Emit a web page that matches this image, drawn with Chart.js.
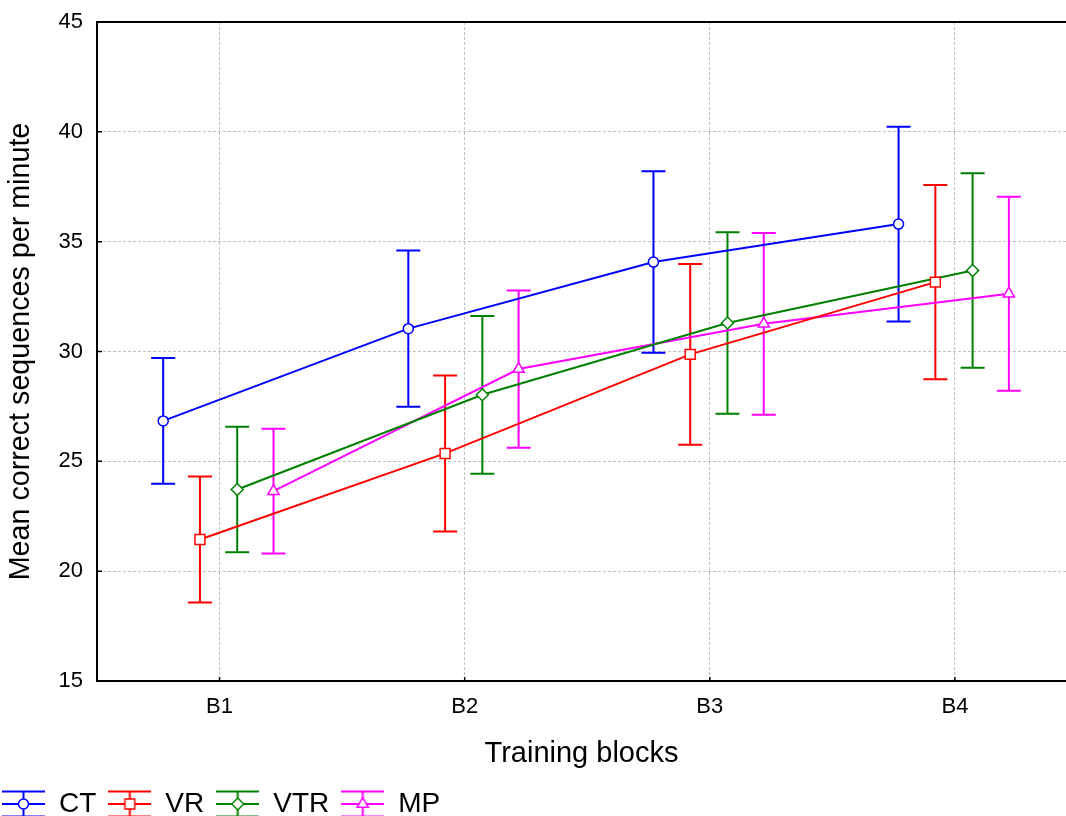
<!DOCTYPE html>
<html>
<head>
<meta charset="utf-8">
<script src="https://cdn.jsdelivr.net/npm/chart.js@4/dist/chart.umd.min.js"></script>
<style>
html,body{margin:0;padding:0;background:#fff;overflow:hidden}
#wrap{width:1066px;height:816px;position:relative}
canvas{display:block}
</style>
</head>
<body>
<div id="wrap"><canvas id="c" width="1066" height="816"></canvas></div>
<script>
// ---------- data ----------
const categories = ['B1', 'B2', 'B3', 'B4'];
const seriesNames = ['CT', 'VR', 'VTR', 'MP'];
const ctMean  = [26.84, 31.04, 34.07, 35.80];
const ctErr   = [2.86, 3.56, 4.13, 4.43];
const vrMean  = [21.44, 25.36, 29.87, 33.16];
const vrErr   = [2.87, 3.55, 4.11, 4.42];
const vtrMean = [23.72, 28.03, 31.30, 33.69];
const vtrErr  = [2.86, 3.59, 4.13, 4.43];
const mpMean  = [23.64, 29.20, 31.26, 32.63];
const mpErr   = [2.84, 3.58, 4.14, 4.42];
const yTickValues = [15, 20, 25, 30, 35, 40, 45];
const xTitle = 'Training blocks';
const yTitle = 'Mean correct sequences per minute';

// ---------- styles / layout ----------
const means = [ctMean, vrMean, vtrMean, mpMean];
const errs = [ctErr, vrErr, vtrErr, mpErr];
const colors = ['#0000ff', '#ff0000', '#008000', '#ff00ff'];
const markers = [
  {style: 'circle', r: 5},
  {style: 'rect', r: 7},
  {style: 'rectRot', r: 6},
  {style: 'triangle', r: 6.5}
];
const offsets = [-0.23, -0.08, 0.072, 0.22];
const FONT = "'Liberation Sans', Arial, Helvetica, sans-serif";
const GRID = '#c0c0c0';
const CAP = 12;

function drawMarker(ctx, style, r, x, y) {
  ctx.beginPath();
  if (style === 'circle') {
    ctx.arc(x, y, r, 0, Math.PI * 2);
  } else if (style === 'rect') {
    const s = Math.SQRT1_2 * r;
    ctx.rect(x - s, y - s, 2 * s, 2 * s);
  } else if (style === 'rectRot') {
    ctx.moveTo(x - r, y); ctx.lineTo(x, y - r); ctx.lineTo(x + r, y); ctx.lineTo(x, y + r);
  } else if (style === 'triangle') {
    let a = 0;
    ctx.moveTo(x + Math.sin(a) * r, y - Math.cos(a) * r);
    a += 2 * Math.PI / 3;
    ctx.lineTo(x + Math.sin(a) * r, y - Math.cos(a) * r);
    a += 2 * Math.PI / 3;
    ctx.lineTo(x + Math.sin(a) * r, y - Math.cos(a) * r);
  }
  ctx.closePath();
  ctx.fill();
  ctx.stroke();
}

const legendIcons = seriesNames.map((n, s) => {
  const cv = document.createElement('canvas');
  cv.width = 43; cv.height = 28;
  const c = cv.getContext('2d');
  c.strokeStyle = colors[s];
  c.lineWidth = 2;
  c.beginPath();
  c.moveTo(0, 1.4); c.lineTo(43, 1.4);
  c.moveTo(0, 14); c.lineTo(43, 14);
  c.moveTo(0, 26.6); c.lineTo(43, 26.6);
  c.moveTo(21.5, 1.4); c.lineTo(21.5, 26.6);
  c.stroke();
  c.fillStyle = '#fff';
  c.lineWidth = 1.5;
  drawMarker(c, markers[s].style, markers[s].r, 21.5, 14);
  return cv;
});

const errorBars = {
  id: 'errorBars',
  beforeDatasetsDraw(chart) {
    const {ctx, scales: {x, y}} = chart;
    ctx.save();
    ctx.lineWidth = 2;
    chart.data.datasets.forEach((ds) => {
      ctx.strokeStyle = ds.borderColor;
      ds.data.forEach((p, i) => {
        const px = x.getPixelForValue(p.x);
        const yt = y.getPixelForValue(p.y + ds.errors[i]);
        const yb = y.getPixelForValue(p.y - ds.errors[i]);
        ctx.beginPath();
        ctx.moveTo(px, yt); ctx.lineTo(px, yb);
        ctx.moveTo(px - CAP, yt); ctx.lineTo(px + CAP, yt);
        ctx.moveTo(px - CAP, yb); ctx.lineTo(px + CAP, yb);
        ctx.stroke();
      });
    });
    ctx.restore();
  }
};

const frame = {
  id: 'frame',
  afterDraw(chart) {
    const {ctx, chartArea: a, scales: {x, y}} = chart;
    ctx.save();
    ctx.strokeStyle = '#000';
    ctx.lineWidth = 1.5;
    ctx.beginPath();
    y.ticks.forEach(t => {
      const py = y.getPixelForValue(t.value);
      ctx.moveTo(a.left, py); ctx.lineTo(a.left + 5, py);
    });
    x.ticks.forEach(t => {
      const px = x.getPixelForValue(t.value);
      ctx.moveTo(px, a.bottom); ctx.lineTo(px, a.bottom - 4);
    });
    ctx.stroke();
    ctx.lineWidth = 2;
    ctx.beginPath();
    ctx.moveTo(a.left - 1, a.top); ctx.lineTo(a.right, a.top);
    ctx.stroke();
    ctx.restore();
  }
};

const legendShift = {
  id: 'legendShift',
  afterLayout(chart) {
    const lg = chart.legend;
    if (!lg) return;
    lg.left -= 10; lg.right -= 10;
    lg.top += 12; lg.bottom += 12;
  }
};

new Chart(document.getElementById('c'), {
  type: 'line',
  data: {
    datasets: seriesNames.map((name, s) => ({
      label: name,
      data: means[s].map((m, i) => ({x: i + 1 + offsets[s], y: m})),
      errors: errs[s],
      borderColor: colors[s],
      backgroundColor: '#fff',
      borderWidth: 2,
      tension: 0,
      pointStyle: markers[s].style,
      pointRadius: markers[s].r,
      pointHoverRadius: markers[s].r,
      pointBorderWidth: 1.5,
      pointBackgroundColor: '#fff',
      pointBorderColor: colors[s]
    }))
  },
  options: {
    responsive: false,
    animation: false,
    devicePixelRatio: 1,
    layout: {autoPadding: false, padding: {top: 22, left: 0, right: 0, bottom: 0}},
    scales: {
      x: {
        type: 'linear',
        min: 0.5,
        max: 4.453,
        afterBuildTicks(scale) {
          scale.ticks = categories.map((c, i) => ({value: i + 1}));
        },
        afterFit(scale) {
          scale.height = 85;
          scale.paddingLeft = 0; scale.paddingRight = 0;
        },
        ticks: {
          padding: 13,
          color: '#000',
          font: {family: FONT, size: 22, lineHeight: 1.2},
          callback: (v) => categories[Math.round(v) - 1]
        },
        grid: {color: GRID, lineWidth: 1, drawTicks: false},
        border: {display: true, color: '#000', width: 2, dash: [3, 2]},
        title: {
          display: true, text: xTitle, color: '#000',
          font: {family: FONT, size: 29, lineHeight: 0.83},
          padding: 0
        }
      },
      y: {
        type: 'linear',
        min: 15,
        max: 45,
        afterBuildTicks(scale) {
          scale.ticks = yTickValues.map(v => ({value: v}));
        },
        afterFit(scale) {
          scale.width = 97;
          scale.paddingTop = 0; scale.paddingBottom = 0;
        },
        ticks: {
          padding: 14,
          color: '#000',
          font: {family: FONT, size: 22, lineHeight: 1.2}
        },
        grid: {
          color: (c) => (c.tick && (c.tick.value === 15 || c.tick.value === 45)) ? 'rgba(0,0,0,0)' : GRID,
          lineWidth: 1,
          drawTicks: false
        },
        border: {display: true, color: '#000', width: 2, dash: [3, 2]},
        title: {
          display: true, text: yTitle, color: '#000',
          font: {family: FONT, size: 28.7, lineHeight: 1.2},
          padding: {top: 4, bottom: 0}
        }
      }
    },
    plugins: {
      tooltip: {enabled: false},
      legend: {
        display: true,
        position: 'bottom',
        align: 'start',
        labels: {
          usePointStyle: true,
          pointStyleWidth: 43,
          padding: 12,
          color: '#000',
          font: {family: FONT, size: 28},
          generateLabels(chart) {
            const items = Chart.defaults.plugins.legend.labels.generateLabels(chart);
            items.forEach((it, i) => { it.pointStyle = legendIcons[i]; it.fontColor = '#000'; });
            return items;
          }
        }
      }
    }
  },
  plugins: [errorBars, frame, legendShift]
});
</script>
</body>
</html>
